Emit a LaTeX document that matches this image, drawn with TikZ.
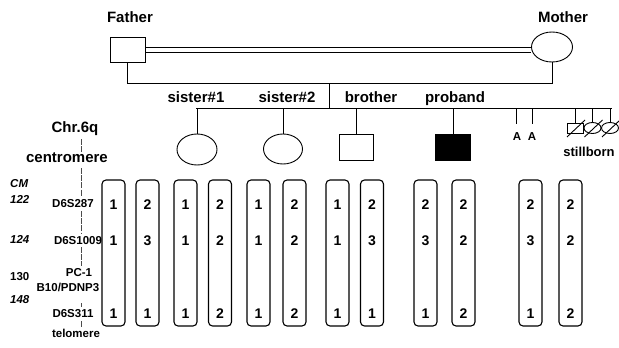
\documentclass[tikz,border=0pt]{standalone}
\usepackage{fontspec}
\setmainfont{Liberation Sans}
\usetikzlibrary{shapes.geometric}
\begin{document}
\begin{tikzpicture}[x=1pt,y=-1pt,
  pline/.style={line width=0.9pt},
  male/.style={draw, line width=0.9pt, rectangle, inner sep=0pt},
  female/.style={draw, line width=0.9pt, ellipse, inner sep=0pt},
  lbl/.style={font=\bfseries\fontsize{15}{15}\selectfont, inner sep=0pt, text height=10.7pt, text depth=0pt},
  smalllbl/.style={font=\bfseries\fontsize{13}{13}\selectfont, inner sep=0pt, text height=9.3pt, text depth=0pt},
  mk/.style={font=\bfseries\fontsize{11.5}{12}\selectfont, inner sep=0pt, text height=8.2pt, text depth=0pt},
  cmit/.style={font=\bfseries\itshape\fontsize{11.5}{12}\selectfont, inner sep=0pt, text height=8.2pt, text depth=0pt, anchor=west},
  cmup/.style={cmit, font=\bfseries\fontsize{11.5}{12}\selectfont},
  chrom/.style={draw, line width=1.1pt, rounded corners=4pt, minimum width=23pt, minimum height=146pt, inner sep=0pt},
  allele/.style={font=\bfseries\fontsize{14}{14}\selectfont, inner sep=0pt, text height=10pt, text depth=0pt},
  axisline/.style={line width=0.6pt, black!70, dash pattern=on 6pt off 1.2pt},
  slash/.style={line width=0.9pt}]
\useasboundingbox (0,0) rectangle (619,348);

% parents
\node[lbl] (fatherlbl) at (130,17) {Father};
\node[lbl] (motherlbl) at (563,17) {Mother};
\node[male, minimum width=35pt, minimum height=25pt] (father) at (127.5,49.5) {};
\node[female, minimum width=41pt, minimum height=30pt] (mother) at (552,47) {};
% consanguineous mating: two parallel lines
\coordinate (fe1) at ([yshift=2.5pt]father.east);
\coordinate (fe2) at ([yshift=-2.5pt]father.east);
\coordinate (mw) at (mother.west);
\draw[pline] (fe1) -- (mw |- fe1);
\draw[pline] (fe2) -- (mw |- fe2);

% mating and sibship lines
\coordinate (mate) at (329,83);
\coordinate (sibL) at (196,108);
\coordinate (sibR) at (612,108);
\draw[pline] (father.south) -- (father.south |- mate) -- (mother.south |- mate) -- (mother.south);
\draw[pline] (mate) -- (mate |- sibL);
\draw[pline] (sibL) -- (sibR);

% offspring
\node[lbl] (s1lbl) at (196,97) {sister\#1};
\node[lbl] (s2lbl) at (287,97) {sister\#2};
\node[lbl] (brlbl) at (371,97) {brother};
\node[lbl] (prlbl) at (455,97) {proband};
\node[female, minimum width=40pt, minimum height=31pt] (sister1) at (197,149.5) {};
\node[female, minimum width=39pt, minimum height=30pt] (sister2) at (283,149) {};
\node[male, minimum width=34pt, minimum height=26pt] (brother) at (356,147) {};
\node[male, fill=black, minimum width=35pt, minimum height=26pt] (proband) at (453,147) {};
\foreach \n in {sister1,sister2,brother,proband}
  \draw[pline] (\n.north |- sibL) -- (\n.north);

% abortions
\coordinate (ab1) at (516,124);
\coordinate (ab2) at (532,124);
\draw[pline] (ab1 |- sibL) -- (ab1);
\draw[pline] (ab2 |- sibL) -- (ab2);
\node[mk] (ab1lbl) at (517,136) {A};
\node[mk] (ab2lbl) at (532,136) {A};

% stillborn
\node[male, minimum width=16pt, minimum height=10pt] (sb1) at (575,128) {};
\node[female, minimum width=17pt, minimum height=11pt] (sb2) at (592.5,128) {};
\node[female, minimum width=17pt, minimum height=11pt] (sb3) at (610,128) {};
\foreach \n in {sb1,sb2,sb3} {
  \draw[pline] (\n.north |- sibL) -- (\n.north);
  \draw[slash] ([shift={(-8,9)}]\n.center) -- ([shift={(10,-8)}]\n.center);
}
\node[smalllbl] (sblbl) at (589,152) {stillborn};

% chromosome axis with markers
\node[lbl] (chr) at (75,127) {Chr.6q};
\node[lbl] (cen) at (67,157) {centromere};
\node[cmit] (cmlbl) at (10,183) {CM};
\node[cmit] (p122) at (10,199) {122};
\node[cmit] (p124) at (10,239) {124};
\node[cmup] (p130) at (10,276) {130};
\node[cmit] (p148) at (10,299) {148};
\node[mk] (m1) at (73,203) {D6S287};
\node[mk] (m2) at (78,240) {D6S1009};
\node[mk] (m3) at (79,272) {PC-1};
\node[mk] (m4) at (68,287) {B10/PDNP3};
\node[mk] (m5) at (73,313) {D6S311};
\node[mk] (tel) at (76,333) {telomere};
\coordinate (ax) at (81,0);
\draw[axisline] (ax |- 0,139) -- (ax |- 0,152);
\draw[axisline] (ax |- 0,168) -- (ax |- 0,196);
\draw[axisline] (ax |- 0,211) -- (ax |- 0,234);
\draw[axisline] (ax |- 0,247) -- (ax |- 0,266);
\draw[axisline] (ax |- 0,303) -- (ax |- 0,307);
\draw[axisline] (ax |- 0,321) -- (ax |- 0,327);

% haplotype bars: index / centre x / alleles at the three markers
\foreach \i/\x/\a/\b/\c in {1/113.5/1/1/1, 2/147.5/2/3/1, 3/185.5/1/1/1, 4/220/2/2/2,
    5/258.5/1/1/1, 6/294.5/2/2/2, 7/337.5/1/1/1, 8/372/2/3/1, 9/425.5/2/3/1,
    10/463.5/2/2/2, 11/530.5/2/3/1, 12/570.5/2/2/2} {
  \node[chrom] (bar\i) at (\x,253) {};
  \node[allele] (bar\i r1) at (\x,204) {\a};
  \node[allele] (bar\i r2) at (\x,240) {\b};
  \node[allele] (bar\i r3) at (\x,313) {\c};
}
\end{tikzpicture}
\end{document}
